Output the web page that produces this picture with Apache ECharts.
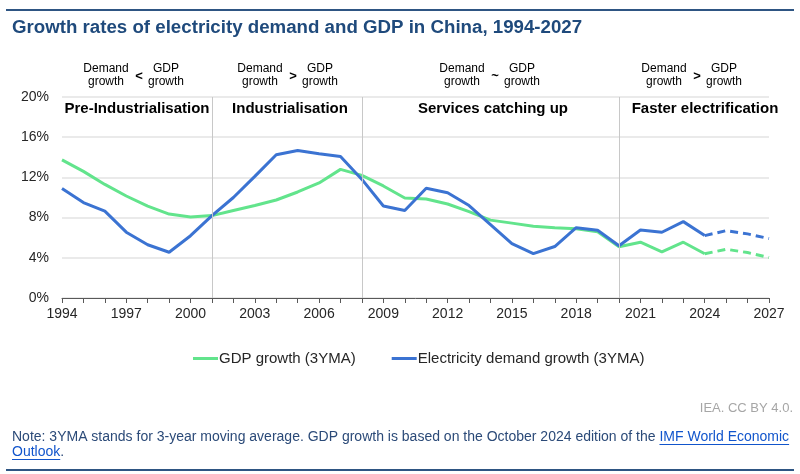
<!DOCTYPE html>
<html>
<head>
<meta charset="utf-8">
<script src="https://cdn.jsdelivr.net/npm/echarts@6/dist/echarts.min.js"></script>
<style>
  html, body { margin: 0; padding: 0; background: #ffffff; }
  #chart { width: 800px; height: 474px; }
</style>
</head>
<body>
<div id="chart"></div>
<script>
// ---- data ----
const years = [1994,1995,1996,1997,1998,1999,2000,2001,2002,2003,2004,2005,2006,2007,2008,2009,2010,2011,2012,2013,2014,2015,2016,2017,2018,2019,2020,2021,2022,2023,2024,2025,2026,2027];
const gdpGrowth = [13.75,12.6,11.3,10.15,9.15,8.35,8.05,8.2,8.7,9.2,9.75,10.55,11.45,12.8,12.2,11.15,9.95,9.85,9.35,8.6,7.75,7.45,7.15,7.0,6.88,6.6,5.1,5.55,4.6,5.55,4.4,4.85,4.52,4.03];
const demandGrowth = [10.9,9.5,8.65,6.55,5.3,4.55,6.2,8.2,10.0,12.1,14.25,14.67,14.35,14.07,11.8,9.16,8.7,10.92,10.48,9.2,7.3,5.4,4.42,5.12,7.0,6.75,5.2,6.77,6.54,7.6,6.21,6.7,6.38,5.91];
const lastActualYear = 2024;
const phaseBoundaries = [2001, 2008, 2020];
const phaseNames = ['Pre-Industrialisation', 'Industrialisation', 'Services catching up', 'Faster electrification'];
const phaseSymbols = ['<', '>', '~', '>'];
const yTicks = [0, 4, 8, 12, 16, 20];
const seriesNames = ['GDP growth (3YMA)', 'Electricity demand growth (3YMA)'];

// ---- helpers ----
function split(values, actual) {
  return years.map((y, i) => {
    const keep = actual ? y <= lastActualYear : y >= lastActualYear;
    return [y, keep ? values[i] : null];
  });
}
const FONT = '"Liberation Sans", Arial, sans-serif';
const measureCtx = document.createElement('canvas').getContext('2d');
function textWidth(t, font) { measureCtx.font = font; return measureCtx.measureText(t).width; }

const GREEN = '#62e48c';
const BLUE = '#3b73d2';
const NOTE_COLOR = '#2b4a78';
const LINK_COLOR = '#1155cc';
const chart = echarts.init(document.getElementById('chart'), null, { renderer: 'canvas' });

const phaseLabelX = [137, 290, 493, 705];
const groupCenterX = [139, 293, 495, 697];

const noteFont = '14px ' + FONT;
const note1 = 'Note: 3YMA stands for 3-year moving average. GDP growth is based on the October 2024 edition of the ';
const link1 = 'IMF World Economic';
const link2 = 'Outlook';
const noteX = 12;
const n1w = textWidth(note1, noteFont);
const l1w = textWidth(link1, noteFont);
const l2w = textWidth(link2, noteFont);

const graphics = [
  { type: 'rect', shape: { x: 6, y: 9, width: 788, height: 2 }, style: { fill: '#2e5583' } },
  { type: 'rect', shape: { x: 6, y: 469, width: 788, height: 2 }, style: { fill: '#2e5583' } },
  { type: 'text', x: 793, y: 408, style: { text: 'IEA. CC BY 4.0.', fill: '#a6a6a6', font: '13px ' + FONT, textAlign: 'right', textVerticalAlign: 'middle' } },
  { type: 'text', x: noteX, y: 437, style: { text: note1, fill: NOTE_COLOR, font: noteFont, textVerticalAlign: 'middle' } },
  { type: 'text', x: noteX + n1w, y: 437, style: { text: link1, fill: LINK_COLOR, font: noteFont, textVerticalAlign: 'middle' } },
  { type: 'line', shape: { x1: noteX + n1w, y1: 444.5, x2: noteX + n1w + l1w, y2: 444.5 }, style: { stroke: LINK_COLOR, lineWidth: 1 } },
  { type: 'text', x: noteX, y: 452, style: { text: link2, fill: LINK_COLOR, font: noteFont, textVerticalAlign: 'middle' } },
  { type: 'line', shape: { x1: noteX, y1: 459.5, x2: noteX + l2w, y2: 459.5 }, style: { stroke: LINK_COLOR, lineWidth: 1 } },
  { type: 'text', x: noteX + l2w, y: 452, style: { text: '.', fill: NOTE_COLOR, font: noteFont, textVerticalAlign: 'middle' } }
];

phaseNames.forEach((name, i) => {
  graphics.push({ type: 'text', x: phaseLabelX[i], y: 109, style: { text: name, fill: '#000', font: 'bold 15px ' + FONT, textAlign: 'center', textVerticalAlign: 'middle' } });
  const c = groupCenterX[i];
  const f = '12px ' + FONT;
  graphics.push({ type: 'text', x: c - 33, y: 69, style: { text: 'Demand', fill: '#000', font: f, textAlign: 'center', textVerticalAlign: 'middle' } });
  graphics.push({ type: 'text', x: c - 33, y: 82, style: { text: 'growth', fill: '#000', font: f, textAlign: 'center', textVerticalAlign: 'middle' } });
  graphics.push({ type: 'text', x: c, y: 76, style: { text: phaseSymbols[i], fill: '#000', font: 'bold 13px ' + FONT, textAlign: 'center', textVerticalAlign: 'middle' } });
  graphics.push({ type: 'text', x: c + 27, y: 69, style: { text: 'GDP', fill: '#000', font: f, textAlign: 'center', textVerticalAlign: 'middle' } });
  graphics.push({ type: 'text', x: c + 27, y: 82, style: { text: 'growth', fill: '#000', font: f, textAlign: 'center', textVerticalAlign: 'middle' } });
});

const option = {
  animation: false,
  backgroundColor: '#ffffff',
  title: {
    text: 'Growth rates of electricity demand and GDP in China, 1994-2027',
    left: 7, top: 13,
    textStyle: { color: '#1f4a7c', fontSize: 18.7, fontWeight: 'bold', fontFamily: FONT }
  },
  grid: { left: 62, right: 31, top: 97, bottom: 176 },
  legend: {
    data: seriesNames,
    left: 188, top: 346,
    itemWidth: 25, itemHeight: 3, itemGap: 36, icon: 'rect',
    textStyle: { color: '#262626', fontSize: 15, fontFamily: FONT, padding: [0, 0, 0, -4] }
  },
  xAxis: {
    type: 'value', min: 1994, max: 2027, interval: 1,
    axisLine: { lineStyle: { color: '#595959', width: 1 } },
    axisTick: { show: true, length: 5, lineStyle: { color: '#595959' } },
    axisLabel: {
      color: '#262626', fontSize: 14, fontFamily: FONT, margin: 9,
      formatter: v => ((v - years[0]) % 3 === 0 ? String(v) : '')
    },
    splitLine: { show: false }
  },
  yAxis: {
    type: 'value', min: yTicks[0], max: yTicks[yTicks.length - 1], interval: 4,
    axisLine: { show: false }, axisTick: { show: false },
    axisLabel: { color: '#262626', fontSize: 14, fontFamily: FONT, margin: 13, formatter: '{value}%' },
    splitLine: { lineStyle: { color: '#e3e3e3', width: 1.5 } }
  },
  graphic: graphics,
  series: [
    {
      name: seriesNames[0], type: 'line', data: split(gdpGrowth, true), color: GREEN,
      showSymbol: false, symbol: 'none', lineStyle: { width: 3, color: GREEN }, z: 3,
      markLine: {
        silent: true, symbol: 'none', label: { show: false },
        lineStyle: { color: '#c8c8c8', width: 1, type: 'solid' },
        data: phaseBoundaries.map(x => ({ xAxis: x }))
      }
    },
    {
      name: seriesNames[1], type: 'line', data: split(demandGrowth, true), color: BLUE,
      showSymbol: false, symbol: 'none', lineStyle: { width: 3, color: BLUE }, z: 4
    },
    {
      name: 'GDP forecast', type: 'line', data: split(gdpGrowth, false), color: GREEN,
      showSymbol: false, symbol: 'none', lineStyle: { width: 3, color: GREEN, type: [8, 5] }, z: 3
    },
    {
      name: 'Demand forecast', type: 'line', data: split(demandGrowth, false), color: BLUE,
      showSymbol: false, symbol: 'none', lineStyle: { width: 3, color: BLUE, type: [8, 5] }, z: 4
    }
  ]
};
chart.setOption(option);
</script>
</body>
</html>
